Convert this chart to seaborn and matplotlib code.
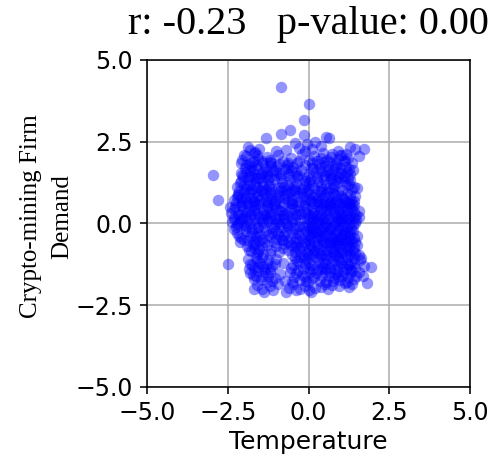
import matplotlib
matplotlib.use("Agg")
import matplotlib.pyplot as plt
import seaborn as sns

title_text = "r: -0.23   p-value: 0.00"
x_label = "Temperature"
y_label = "Crypto-mining Firm\nDemand"
ticks = [-5.0, -2.5, 0.0, 2.5, 5.0]

# Temperature values (grouped by height band)
temperature = [
    # top outliers
    -0.85, 0.03, -0.15, -0.58, -0.85, -0.15, -1.32, -0.41, 0.53, 0.62,
    0.21, 0.38, 1.28, 1.44, 1.72, 1.56, 0.90, 0.74, -1.88, -1.52,
    -1.00, -1.80, -0.05, -0.30, 0.10, -1.65, -2.00, -0.70, 1.05,
    # left outliers
    -2.96, -2.79, -2.43, -2.48, -2.19,
    # right / bottom edge
    1.51, 1.56, 1.51, 1.56, 1.64, 1.95, 1.80, 1.36, -1.39, -1.68,
    -0.70, -0.39, 0.07, 0.38, 0.74, -1.83, -1.57,
    # band 1.8..2.2
    -2.05, -1.92, -1.75, -1.60, -1.45, -1.30, -1.15, -0.95, -0.80, -0.55,
    -0.35, -0.20, 0.00, 0.18, 0.32, 0.45, 0.58, 0.70, 0.85, 0.98,
    1.10, 1.22, 1.35, -1.85, -1.55, -1.20, 0.62, 0.90, -0.10, 0.25,
    -2.10, -1.68, 1.15, 0.40, -0.65,
    # band 1.4..1.8
    -2.10, -1.98, -1.85, -1.72, -1.60, -1.48, -1.35, -1.22, -1.10, -0.98,
    -0.85, -0.72, -0.60, -0.48, -0.35, -0.22, -0.10, 0.02, 0.15, 0.28,
    0.40, 0.52, 0.65, 0.78, 0.90, 1.02, 1.15, 1.28, 1.38, -1.92,
    -1.78, -1.55, -1.40, -1.15, -0.92, -0.68, -0.40, -0.05, 0.22, 0.60,
    0.85, 1.10, 1.25, -2.02, -1.65, -1.28, 0.08, 0.95, -0.55, 0.72,
    # band 1.0..1.4
    -2.20, -2.08, -1.95, -1.82, -1.70, -1.58, -1.45, -1.32, -1.20, -1.08,
    -0.95, -0.82, -0.70, -0.58, -0.45, -0.32, -0.20, -0.08, 0.05, 0.18,
    0.30, 0.42, 0.55, 0.68, 0.80, 0.92, 1.05, 1.18, 1.30, 1.42,
    -2.12, -1.88, -1.65, -1.40, -1.15, -0.88, -0.62, -0.38, -0.12, 0.12,
    0.38, 0.62, 0.85, 1.10, 1.35, -1.75, -1.25, -0.75, 0.00, 0.75,
    1.22, -2.00, -1.50, 0.48, -0.50,
    # band 0.6..1.0
    -2.30, -2.18, -2.05, -1.92, -1.80, -1.68, -1.55, -1.42, -1.30, -1.18,
    -1.05, -0.92, -0.80, -0.68, -0.55, -0.42, -0.30, -0.18, -0.05, 0.08,
    0.20, 0.32, 0.45, 0.58, 0.70, 0.82, 0.95, 1.08, 1.20, 1.32,
    1.45, -2.25, -2.00, -1.75, -1.50, -1.25, -1.00, -0.75, -0.50, -0.25,
    0.00, 0.25, 0.50, 0.75, 1.00, 1.25, 1.40, -1.88, -1.62, -1.12,
    -0.62, -0.12, 0.38, 0.88, 1.15, -2.10, -1.38, -0.88, 0.62, 0.14,
    # band 0.2..0.6
    -2.40, -2.28, -2.15, -2.02, -1.90, -1.78, -1.65, -1.52, -1.40, -1.28,
    -1.15, -1.02, -0.90, -0.78, -0.65, -0.52, -0.40, -0.28, -0.15, -0.02,
    0.10, 0.22, 0.35, 0.48, 0.60, 0.72, 0.85, 0.98, 1.10, 1.22,
    1.35, 1.48, -2.32, -2.08, -1.85, -1.60, -1.35, -1.10, -0.85, -0.60,
    -0.35, -0.10, 0.15, 0.40, 0.65, 0.90, 1.15, 1.40, 1.55, -1.72,
    -1.22, -0.72, -0.22, 0.28, 0.78, 1.28, -1.96, -0.46, 0.55, 1.02,
    # band -0.2..0.2
    -2.38, -2.25, -2.12, -2.00, -1.88, -1.75, -1.62, -1.50, -1.38, -1.25,
    -1.12, -1.00, -0.88, -0.75, -0.62, -0.50, -0.38, -0.25, -0.12, 0.00,
    0.12, 0.25, 0.38, 0.50, 0.62, 0.75, 0.88, 1.00, 1.12, 1.25,
    1.38, 1.48, -2.30, -2.05, -1.80, -1.55, -1.30, -1.05, -0.80, -0.55,
    -0.30, -0.05, 0.20, 0.45, 0.70, 0.95, 1.20, 1.42, -1.95, -1.45,
    -0.95, -0.45, 0.05, 0.55, 1.05, 1.30, -2.18, -0.70, 0.30, 0.82,
    # band -0.6..-0.2
    -2.20, -2.08, -1.95, -1.82, -1.70, -1.58, -1.45, -1.32, -1.20, -1.08,
    -0.95, -0.82, -0.70, -0.58, -0.45, -0.32, -0.20, -0.08, 0.05, 0.18,
    0.30, 0.42, 0.55, 0.68, 0.80, 0.92, 1.05, 1.18, 1.30, 1.42,
    -2.12, -1.88, -1.62, -1.38, -1.12, -0.88, -0.62, -0.38, -0.12, 0.12,
    0.38, 0.62, 0.88, 1.12, 1.35, -0.25, 0.25, 0.75, 1.00, -1.50,
    -0.75, 0.48, 1.22, 0.00, -1.00,
    # band -1.0..-0.6
    -1.90, -1.78, -1.65, -1.52, -1.40, -1.28, -1.15, -1.02, -0.90, -0.75,
    -0.62, -0.50, -0.38, -0.25, -0.12, 0.00, 0.12, 0.25, 0.38, 0.50,
    0.62, 0.75, 0.88, 1.00, 1.12, 1.25, 1.38, 1.50, -1.60, -0.45,
    -0.18, 0.08, 0.32, 0.58, 0.82, 1.05, 1.30, 1.45, -0.80, 0.18,
    0.70, 0.95, 1.18, -0.30, -1.70,
    # band -1.4..-1.0
    -1.88, -1.75, -1.62, -1.50, -1.38, -1.25, -1.12, -1.00, -0.78, -0.55,
    -0.42, -0.30, -0.18, -0.05, 0.08, 0.20, 0.32, 0.45, 0.58, 0.70,
    0.82, 0.95, 1.08, 1.20, 1.32, 1.45, 1.58, 1.72, -1.70, -1.45,
    -0.25, 0.02, 0.38, 0.65, 0.88, 1.15, 1.40, -0.10, 0.52, 1.02,
    -1.30, 1.25,
    # band -1.8..-1.4
    -1.80, -1.68, -1.55, -1.42, -1.30, -1.18, -1.05, -0.88, -0.72, -0.58,
    -0.45, -0.32, -0.20, -0.08, 0.05, 0.18, 0.30, 0.42, 0.55, 0.68,
    0.80, 0.92, 1.05, 1.18, 1.30, 1.42, 1.55, 1.68, -1.62, -1.35,
    -0.50, 0.10, 0.62, 1.10, -0.25, 0.85,
    # band -2.1..-1.8
    -1.60, -1.45, -1.20, -0.95, -0.60, -0.48, -0.25, -0.10, 0.20, 0.50,
    0.60, 0.95, 1.12, 1.25, -1.10, 0.00,
]

# Demand values, same order as temperature
demand = [
    # top outliers
    4.18, 3.66, 3.15, 2.86, 2.74, 2.71, 2.61, 2.46, 2.65, 2.60,
    2.48, 2.38, 2.33, 2.27, 2.27, 2.05, 2.22, 2.12, 2.33, 2.27,
    2.22, 2.25, 2.42, 2.30, 2.28, 2.18, 2.10, 2.25, 2.10,
    # left outliers
    1.48, 0.71, 0.50, -1.24, 0.88,
    # right / bottom edge
    1.07, 0.39, -0.40, -0.97, -1.05, -1.34, -1.81, -1.84, -2.10, -2.00,
    -2.10, -2.05, -2.10, -1.94, -1.89, -1.38, -1.33,
    # band 1.8..2.2
    1.95, 2.05, 1.88, 2.10, 1.92, 2.02, 1.85, 2.08, 1.90, 2.00,
    1.86, 2.12, 1.95, 2.05, 1.82, 2.15, 1.93, 2.02, 1.85, 2.08,
    1.90, 2.00, 1.84, 1.82, 1.98, 1.95, 1.88, 1.96, 2.20, 1.92,
    1.85, 2.15, 2.12, 2.00, 1.84,
    # band 1.4..1.8
    1.55, 1.70, 1.45, 1.62, 1.78, 1.50, 1.68, 1.42, 1.60, 1.75,
    1.48, 1.66, 1.52, 1.72, 1.44, 1.62, 1.78, 1.50, 1.68, 1.45,
    1.60, 1.76, 1.48, 1.65, 1.42, 1.58, 1.74, 1.50, 1.62, 1.58,
    1.75, 1.40, 1.58, 1.75, 1.55, 1.78, 1.58, 1.42, 1.56, 1.64,
    1.72, 1.45, 1.66, 1.42, 1.52, 1.50, 1.70, 1.55, 1.62, 1.40,
    # band 1.0..1.4
    1.12, 1.30, 1.05, 1.22, 1.38, 1.10, 1.28, 1.02, 1.20, 1.35,
    1.08, 1.25, 1.02, 1.32, 1.15, 1.38, 1.05, 1.22, 1.36, 1.08,
    1.28, 1.04, 1.20, 1.36, 1.10, 1.26, 1.02, 1.18, 1.34, 1.12,
    1.25, 1.35, 1.18, 1.15, 1.05, 1.38, 1.18, 1.25, 1.30, 1.18,
    1.15, 1.08, 1.32, 1.28, 1.05, 1.05, 1.32, 1.12, 1.05, 1.22,
    1.38, 1.18, 1.38, 1.35, 1.02,
    # band 0.6..1.0
    0.72, 0.90, 0.65, 0.82, 0.98, 0.70, 0.88, 0.62, 0.80, 0.95,
    0.68, 0.85, 0.62, 0.92, 0.75, 0.98, 0.65, 0.82, 0.96, 0.68,
    0.88, 0.64, 0.80, 0.96, 0.70, 0.86, 0.62, 0.78, 0.94, 0.72,
    0.85, 0.62, 0.95, 0.78, 0.72, 0.65, 0.90, 0.78, 0.62, 0.92,
    0.75, 0.70, 0.65, 0.92, 0.85, 0.62, 0.68, 0.66, 0.96, 0.76,
    0.68, 0.62, 0.95, 0.74, 0.66, 0.78, 0.92, 0.98, 0.82, 0.80,
    # band 0.2..0.6
    0.32, 0.50, 0.25, 0.42, 0.58, 0.30, 0.48, 0.22, 0.40, 0.55,
    0.28, 0.45, 0.22, 0.52, 0.35, 0.58, 0.25, 0.42, 0.56, 0.28,
    0.48, 0.24, 0.40, 0.56, 0.30, 0.46, 0.22, 0.38, 0.54, 0.32,
    0.45, 0.26, 0.20, 0.55, 0.38, 0.32, 0.25, 0.50, 0.38, 0.22,
    0.52, 0.35, 0.32, 0.25, 0.52, 0.45, 0.24, 0.56, 0.20, 0.52,
    0.35, 0.28, 0.30, 0.55, 0.36, 0.50, 0.24, 0.45, 0.42, 0.28,
    # band -0.2..0.2
    0.05, -0.12, 0.15, -0.05, 0.10, -0.18, 0.02, 0.18, -0.10, 0.08,
    -0.15, 0.12, -0.02, 0.16, -0.12, 0.05, -0.18, 0.10, -0.05, 0.15,
    -0.10, 0.08, -0.16, 0.02, 0.18, -0.08, 0.10, -0.14, 0.04, 0.16,
    -0.06, 0.10, -0.18, 0.18, 0.00, -0.12, 0.15, -0.02, -0.15, 0.12,
    -0.08, 0.18, 0.00, 0.14, -0.18, 0.06, -0.12, 0.18, -0.15, 0.06,
    0.05, -0.14, -0.18, -0.06, 0.16, 0.00, 0.00, 0.00, 0.12, -0.02,
    # band -0.6..-0.2
    -0.28, -0.45, -0.22, -0.38, -0.55, -0.30, -0.48, -0.24, -0.42, -0.58,
    -0.32, -0.50, -0.26, -0.44, -0.58, -0.30, -0.46, -0.22, -0.40, -0.56,
    -0.28, -0.44, -0.60, -0.34, -0.50, -0.24, -0.40, -0.56, -0.30, -0.46,
    -0.58, -0.52, -0.42, -0.56, -0.28, -0.40, -0.56, -0.44, -0.58, -0.30,
    -0.52, -0.22, -0.58, -0.32, -0.58, -0.34, -0.42, -0.45, -0.52, -0.36,
    -0.36, -0.34, -0.22, -0.52, -0.48,
    # band -1.0..-0.6
    -0.68, -0.85, -0.62, -0.78, -0.95, -0.66, -0.82, -0.70, -0.88, -0.64,
    -0.80, -0.96, -0.68, -0.84, -0.62, -0.78, -0.94, -0.66, -0.82, -0.98,
    -0.70, -0.86, -0.62, -0.78, -0.94, -0.68, -0.84, -0.66, -0.92, -0.72,
    -0.98, -0.70, -0.90, -0.84, -0.96, -0.64, -0.98, -0.90, -0.76, -0.80,
    -0.74, -0.88, -0.80, -0.76, -0.74,
    # band -1.4..-1.0
    -1.10, -1.28, -1.05, -1.22, -1.38, -1.12, -1.30, -1.08, -1.20, -1.35,
    -1.05, -1.22, -1.38, -1.10, -1.28, -1.02, -1.18, -1.34, -1.08, -1.25,
    -1.40, -1.12, -1.30, -1.04, -1.20, -1.36, -1.12, -1.30, -1.36, -1.02,
    -1.02, -1.36, -1.38, -1.02, -1.28, -1.38, -1.06, -1.25, -1.20, -1.20,
    -1.25, -1.28,
    # band -1.8..-1.4
    -1.52, -1.70, -1.45, -1.62, -1.78, -1.50, -1.68, -1.55, -1.75, -1.48,
    -1.65, -1.42, -1.58, -1.75, -1.48, -1.65, -1.42, -1.60, -1.78, -1.50,
    -1.68, -1.45, -1.62, -1.78, -1.52, -1.70, -1.48, -1.60, -1.60, -1.48,
    -1.78, -1.68, -1.62, -1.50, -1.72, -1.55,
    # band -2.1..-1.8
    -1.88, -2.02, -1.92, -1.85, -1.98, -1.86, -2.00, -1.90, -1.96, -1.85,
    -2.02, -1.90, -1.82, -1.95, -2.05, -2.05,
]

# Extra points in the dense core of the cloud
temperature_core = [
    -1.95, -1.82, -1.70, -1.58, -1.42, -1.30, -1.18, -1.05, -0.90, -0.62,
    0.35, 0.48, 0.70, 0.82, 1.00, 1.12, 1.20, 0.58, 0.12, -0.28,
    -2.05, -1.90, -1.78, -1.62, -1.48, -1.36, -1.22, -1.02, -0.85, -0.65,
    -0.42, -0.28, -0.15, 0.02, 0.25, 0.35, 0.50, 0.72, 0.98, 1.25,
    -2.15, -1.98, -1.85, -1.72, -1.58, -1.45, -1.32, -1.20, -1.08, -0.95,
    -0.72, -0.48, -0.35, -0.08, 0.05, 0.28, 0.52, 0.65, 0.92, 1.10,
    1.28, 1.36, 0.80, 0.42, -0.20, -0.58, -1.65, -2.20, 1.02, 0.18,
    -2.30, -2.18, -2.05, -1.92, -1.80, -1.68, -1.55, -1.42, -1.30, -1.18,
    -1.05, -0.92, -0.80, -0.55, -0.30, -0.05, 0.05, 0.18, 0.30, 0.42,
    0.55, 0.68, 0.80, 0.92, 1.05, 1.18, 1.30, 1.42, 1.25, 0.62,
    -2.32, -2.20, -2.08, -1.92, -1.70, -1.58, -1.42, -1.20, -1.08, -0.92,
    -0.68, -0.42, -0.18, 0.08, 0.18, 0.32, 0.42, 0.58, 0.68, 0.80,
    0.92, 1.08, 1.18, 1.32, 1.45, 0.48, 0.90, 0.15, -0.02, 1.02,
    -2.15, -2.00, -1.75, -1.52, -1.25, -1.02, -0.78, -0.52, -0.28, -0.02,
    0.08, 0.22, 0.35, 0.46, 0.58, 0.70, 0.85, 0.98, 1.10, 1.25,
    1.38, 1.45, 1.15, 0.65, 0.15, 0.92, 1.30, 0.40, 0.80, 1.02,
    -0.55, -0.42, -0.20, -0.05, 0.05, 0.20, 0.30, 0.45, 0.55, 0.68,
    0.78, 0.92, 1.05, 1.15, 1.28, 1.40, 1.22, 0.85, 0.40, 0.02,
    -1.85, -1.72, -1.55, -1.45, -1.20,
    -0.35, -0.15, 0.00, 0.15, 0.28, 0.42, 0.55, 0.75, 0.92, 1.05,
    1.18, 1.30, 1.42, 0.68, -0.48, -1.82, -1.58, -1.42, -1.20, -1.05,
    -1.72, -1.48, -1.25, -1.12, -0.38, -0.12, 0.22, 0.35, 0.50, 0.75,
    0.98, 1.22, 1.35, 1.48, -0.02, 0.90,
]

demand_core = [
    1.80, 1.62, 1.90, 1.66, 1.84, 1.60, 1.88, 1.64, 1.82, 1.70,
    1.70, 1.88, 1.55, 1.80, 1.68, 1.90, 1.56, 1.58, 1.84, 1.92,
    1.48, 1.15, 1.44, 1.30, 1.02, 1.46, 1.14, 1.48, 1.12, 1.45,
    1.06, 1.48, 1.12, 1.26, 1.40, 1.00, 1.46, 1.05, 1.40, 1.20,
    0.98, 0.72, 0.92, 0.64, 0.82, 0.98, 0.70, 0.86, 0.60, 0.78,
    0.86, 0.70, 0.84, 0.72, 0.90, 0.78, 0.88, 0.62, 0.96, 0.72,
    0.88, 0.60, 0.66, 0.60, 0.96, 0.95, 0.60, 0.82, 0.62, 0.62,
    0.45, 0.30, 0.52, 0.36, 0.22, 0.40, 0.58, 0.30, 0.46, 0.22,
    0.56, 0.40, 0.26, 0.44, 0.28, 0.48, 0.22, 0.40, 0.26, 0.48,
    0.22, 0.40, 0.58, 0.30, 0.46, 0.40, 0.22, 0.36, 0.58, 0.58,
    0.12, -0.05, 0.08, -0.08, 0.12, -0.15, 0.00, 0.16, -0.10, 0.14,
    -0.06, 0.14, -0.12, 0.05, -0.16, 0.02, -0.08, 0.10, -0.14, 0.04,
    -0.16, -0.04, 0.12, -0.16, 0.02, -0.12, 0.18, 0.15, -0.12, 0.08,
    -0.38, -0.52, -0.30, -0.55, -0.36, -0.24, -0.52, -0.30, -0.54, -0.34,
    -0.46, -0.24, -0.38, -0.56, -0.28, -0.42, -0.30, -0.44, -0.24, -0.40,
    -0.24, -0.56, -0.48, -0.58, -0.26, -0.52, -0.52, -0.22, -0.58, -0.32,
    -0.66, -0.88, -0.70, -0.90, -0.62, -0.86, -0.72, -0.64, -0.94, -0.62,
    -0.80, -0.70, -0.86, -0.68, -0.90, -0.74, -0.60, -0.92, -0.98, -0.98,
    -0.80, -0.64, -0.86, -0.70, -0.92,
    -1.14, -1.06, -1.22, -1.38, -1.08, -1.24, -1.40, -1.14, -1.02, -1.12,
    -1.24, -1.38, -1.22, -1.36, -1.26, -1.24, -1.14, -1.30, -1.40, -1.24,
    -1.58, -1.72, -1.62, -1.76, -1.52, -1.62, -1.52, -1.76, -1.48, -1.76,
    -1.72, -1.64, -1.44, -1.62, -1.80, -1.62,
]

m = min(len(temperature_core), len(demand_core))
n = min(len(temperature), len(demand))
all_temperature = temperature[:n] + temperature_core[:m]
all_demand = demand[:n] + demand_core[:m]

lw = 1.15
plt.rcParams.update({
    "axes.linewidth": lw,
    "xtick.major.width": lw,
    "ytick.major.width": lw,
    "xtick.major.size": 5,
    "ytick.major.size": 5,
    "xtick.major.pad": 5,
    "ytick.major.pad": 5,
})

fig = plt.figure(figsize=(4.95, 4.59), dpi=100)
ax = fig.add_axes([0.297, 0.157, 0.6525, 0.7125])

sns.scatterplot(x=all_temperature, y=all_demand, color="blue", alpha=0.42, s=68,
                linewidth=0, ax=ax, zorder=3)

ax.set_xlim(-5, 5)
ax.set_ylim(-5, 5)
ax.set_xticks(ticks)
ax.set_yticks(ticks)
ax.set_xticklabels([f"{t:.1f}".replace("-", "\u2212") for t in ticks], fontsize=17)
ax.set_yticklabels([f"{t:.1f}".replace("-", "\u2212") for t in ticks], fontsize=17)
ax.grid(True, color="#b0b0b0", linewidth=lw, zorder=0)
ax.set_axisbelow(True)

ax.set_xlabel(x_label, fontsize=18, family="DejaVu Sans")
ax.set_ylabel(y_label, fontsize=18, family=["Liberation Serif", "DejaVu Serif"],
              linespacing=1.5)
ax.yaxis.set_label_coords(-0.23, 0.521)
ax.set_title(title_text, fontsize=29, family=["Liberation Serif", "DejaVu Serif"],
             pad=19)

fig.savefig("out.png", dpi=100)
